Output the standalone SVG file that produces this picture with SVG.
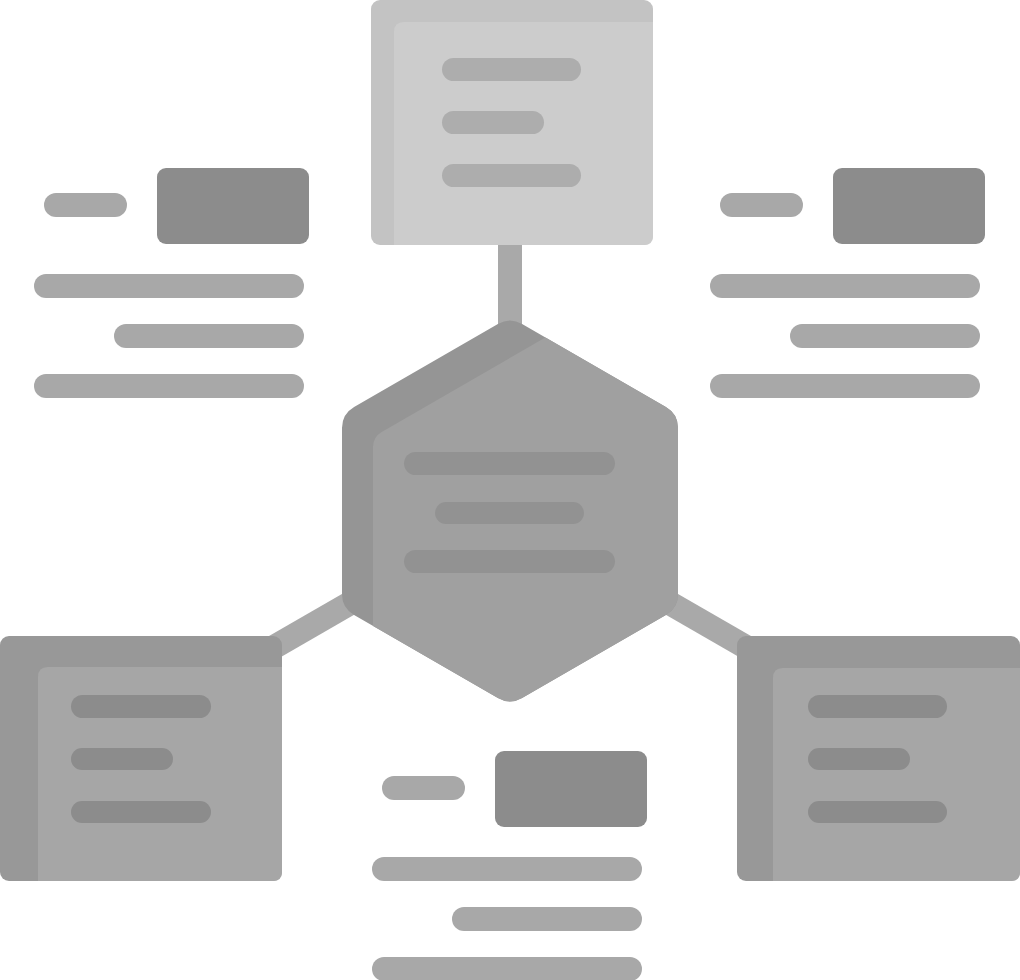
<svg xmlns="http://www.w3.org/2000/svg" width="1020" height="980" viewBox="0 0 1020 980">
  <style>
    .conn { stroke: #a9a9a9; stroke-width: 24; fill: none; }
    .pill { fill: #a8a8a8; }
    .tag { fill: #8c8c8c; }
    .tl { fill: #adadad; }
    .hl { fill: #929292; }
    .bl { fill: #8c8c8c; }
    .boxOuter { fill: #989898; }
    .boxInner { fill: #a6a6a6; }
  </style>
  <defs>
    <path id="hexShape" d="M522.1,324 L665.9,407 Q678,414 678,428 L678,594 Q678,608 665.9,615 L522.1,698 Q510,705 497.9,698 L354.1,615 Q342,608 342,594 L342,428 Q342,414 354.1,407 L497.9,324 Q510,317 522.1,324 Z"/>
    <clipPath id="hexClip"><use href="#hexShape"/></clipPath>
    <g id="textBlock">
      <rect class="pill" x="44" y="193" width="83" height="24" rx="12"/>
      <rect class="tag" x="157" y="168" width="152" height="76" rx="9"/>
      <rect class="pill" x="34" y="274" width="270" height="24" rx="12"/>
      <rect class="pill" x="114" y="324" width="190" height="24" rx="12"/>
      <rect class="pill" x="34" y="374" width="270" height="24" rx="12"/>
    </g>
  </defs>

  <g id="connectors">
    <line class="conn" x1="510" y1="235" x2="510" y2="511"/>
    <line class="conn" x1="510" y1="511" x2="262" y2="654"/>
    <line class="conn" x1="510" y1="511" x2="758" y2="654"/>
  </g>

  <g id="top-box">
    <rect x="371" y="0" width="282" height="245" rx="9" fill="#c3c3c3"/>
    <path d="M394,32 Q394,22 404,22 L653,22 L653,236 Q653,245 644,245 L394,245 Z" fill="#cccccc"/>
    <rect class="tl" x="442" y="58" width="139" height="23" rx="11.5"/>
    <rect class="tl" x="442" y="111" width="102" height="23" rx="11.5"/>
    <rect class="tl" x="442" y="164" width="139" height="23" rx="11.5"/>
  </g>

  <g id="center-hexagon">
    <use href="#hexShape" fill="#959595"/>
    <path clip-path="url(#hexClip)" d="M373,900 L373,447 Q373,437 381.7,432 L641.5,282 L900,282 L900,900 Z" fill="#a0a0a0"/>
    <rect class="hl" x="404" y="452" width="211" height="23" rx="11.5"/>
    <rect class="hl" x="435" y="502" width="149" height="22" rx="11"/>
    <rect class="hl" x="404" y="550" width="211" height="23" rx="11.5"/>
  </g>

  <g id="bottom-left-box">
    <rect class="boxOuter" x="0" y="636" width="282" height="245" rx="9"/>
    <path class="boxInner" d="M38,677 Q38,667 48,667 L282,667 L282,872 Q282,881 273,881 L38,881 Z"/>
    <rect class="bl" x="71" y="695" width="140" height="23" rx="11.5"/>
    <rect class="bl" x="71" y="748" width="102" height="22" rx="11"/>
    <rect class="bl" x="71" y="801" width="140" height="22" rx="11"/>
  </g>

  <g id="bottom-right-box">
    <rect class="boxOuter" x="737" y="636" width="283" height="245" rx="9"/>
    <path class="boxInner" d="M773,678 Q773,668 783,668 L1020,668 L1020,872 Q1020,881 1011,881 L773,881 Z"/>
    <rect class="bl" x="808" y="695" width="139" height="23" rx="11.5"/>
    <rect class="bl" x="808" y="748" width="102" height="22" rx="11"/>
    <rect class="bl" x="808" y="801" width="139" height="22" rx="11"/>
  </g>

  <g id="left-text-block">
    <use href="#textBlock"/>
  </g>
  <g id="right-text-block">
    <use href="#textBlock" transform="translate(676,0)"/>
  </g>
  <g id="bottom-text-block">
    <use href="#textBlock" transform="translate(338,583)"/>
  </g>
</svg>
